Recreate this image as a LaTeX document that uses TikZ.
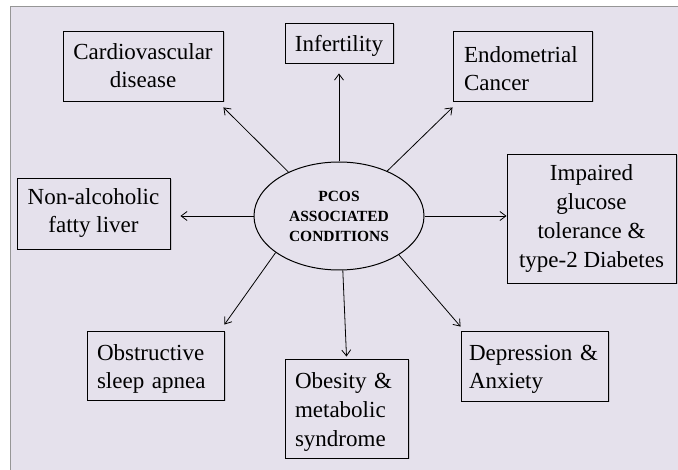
\documentclass[tikz,border=0pt]{standalone}
\usepackage{fontspec}
\setmainfont{Liberation Serif}
\usetikzlibrary{positioning}
\usetikzlibrary{shapes.geometric,shadows,arrows.meta}
\definecolor{bgcol}{RGB}{229,225,236}
\definecolor{framecol}{RGB}{150,150,150}

\begin{document}
\begin{tikzpicture}[
                x=1pt, y=-1pt,
                every node/.style={font=\fontsize{23}{28}\selectfont},
                cond/.style={rectangle, draw, fill=bgcol, line width=0.9pt, align=center, inner sep=0pt,
                             execute at begin node={\rule{0pt}{22pt}},
                             drop shadow={shadow xshift=1.5pt, shadow yshift=-1.5pt, opacity=0.3}},
                condl/.style={cond, align=left},
                hub/.style={ellipse, draw, fill=bgcol, line width=1pt, minimum width=170pt, minimum height=108pt,
                            inner sep=0pt, align=center, font=\fontsize{15.5}{20}\selectfont\bfseries},
                link/.style={-{Straight Barb[length=6pt,width=9pt]}, line width=0.8pt}
            ]
            % Background
            \useasboundingbox (0,0) rectangle (678,470);
            \fill[bgcol] (10,7) rectangle (678,470);
            \draw[framecol, line width=1pt] (10,470) -- (10,7) -- (678,7);
            % Nodes
            \node[hub] (pcos) at (339,216) {PCOS\\ASSOCIATED\\CONDITIONS};
            \node[cond, minimum width=160pt, minimum height=70pt] (cardio) at (143,66) {Cardiovascular\\disease};
            \node[cond, minimum width=108pt, minimum height=40pt] (infert) at (339,43) {Infertility};
            \node[condl, text width=117pt, minimum width=139pt, minimum height=70pt] (endo) at (522.5,66) {Endometrial\\Cancer};
            \node[cond, minimum width=153pt, minimum height=71pt] (nafl) at (93.5,213.5) {Non-alcoholic\\fatty liver};
            \node[cond, minimum width=169pt, minimum height=129pt, font=\fontsize{23}{29}\selectfont] (igt) at (591.5,218.5) {Impaired\\glucose\\tolerance \&\\type-2 Diabetes};
            \node[condl, text width=117pt, minimum width=137pt, minimum height=69pt] (osa) at (155.5,365.5) {Obstructive\\sleep apnea};
            \node[condl, text width=103pt, minimum width=123pt, minimum height=99pt, font=\fontsize{23}{29}\selectfont] (obes) at (346.5,408.5) {Obesity \&\\metabolic\\syndrome};
            \node[condl, text width=131pt, minimum width=147pt, minimum height=70pt, inner xsep=0pt] (dep) at (534.5,366) {Depression \&\\Anxiety};
            % Arrows
            \draw[link] (pcos.139) -- ([yshift=-6pt]cardio.south east);
            \draw[link, shorten >=10pt] (pcos) -- (infert);
            \draw[link] (pcos.43) -- ([yshift=-6pt]endo.south west);
            \draw[link, shorten >=10pt] (pcos.west) -- (pcos.west -| nafl.east);
            \draw[link] (pcos.east) -- (pcos.east -| igt.west);
            \draw[link] (pcos.210) -- ([yshift=6pt]osa.north east);
            \draw[link] (pcos.274) -- ([yshift=2pt]obes.north);
            \draw[link] (pcos.327) -- ([yshift=4pt]dep.north west);
\end{tikzpicture}
\end{document}
